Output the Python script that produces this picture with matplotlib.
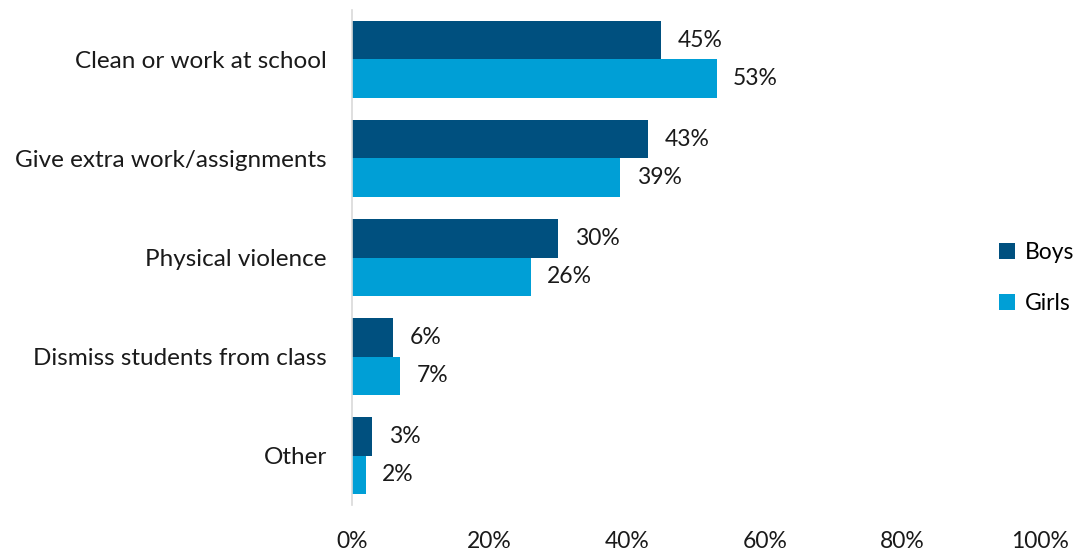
import numpy as np
import matplotlib.pyplot as plt
from matplotlib.ticker import PercentFormatter

categories = ["Clean or work at school", "Give extra work/assignments", "Physical violence",
              "Dismiss students from class", "Other"]
boys = [45, 43, 30, 6, 3]
girls = [53, 39, 26, 7, 2]
series_names = ["Boys", "Girls"]
colors = ["#00507F", "#009FD6"]

plt.rcParams['font.family'] = ['Lato', 'DejaVu Sans']
fs = 16.5

fig = plt.figure(figsize=(10.76, 5.52), dpi=100)
ax = fig.add_axes([0.327, 0.085, 0.6395, 0.897])

y = np.arange(len(categories))
h = 0.385
b1 = ax.barh(y - h / 2, boys, height=h, color=colors[0], label=series_names[0])
b2 = ax.barh(y + h / 2, girls, height=h, color=colors[1], label=series_names[1])

for bars, vals in ((b1, boys), (b2, girls)):
    for bar, v in zip(bars, vals):
        ax.text(bar.get_width() + 2.4, bar.get_y() + bar.get_height() / 2, f"{v}%",
                va="center", ha="left", fontsize=fs, color="#1a1a1a")

ax.set_yticks(y)
ax.set_yticklabels(categories, fontsize=17.5, color="#1a1a1a")
ax.set_ylim(len(categories) - 0.5, -0.5)
ax.set_xlim(0, 100)
ax.set_xticks(np.arange(0, 101, 20))
ax.xaxis.set_major_formatter(PercentFormatter(decimals=0))
ax.tick_params(axis="x", labelsize=fs, colors="#1a1a1a", length=0, pad=19)
ax.tick_params(axis="y", length=0, pad=18)
for s in ("top", "right", "bottom"):
    ax.spines[s].set_visible(False)
ax.spines["left"].set_color("#D9D9D9")
ax.spines["left"].set_linewidth(1.2)

fig.legend(handles=[b1, b2], loc="center left", bbox_to_anchor=(0.918, 0.497), frameon=False,
           fontsize=fs, handlelength=0.7, handleheight=0.7, handletextpad=0.4,
           labelspacing=1.3, borderpad=0)

fig.savefig("out.png", dpi=100)
